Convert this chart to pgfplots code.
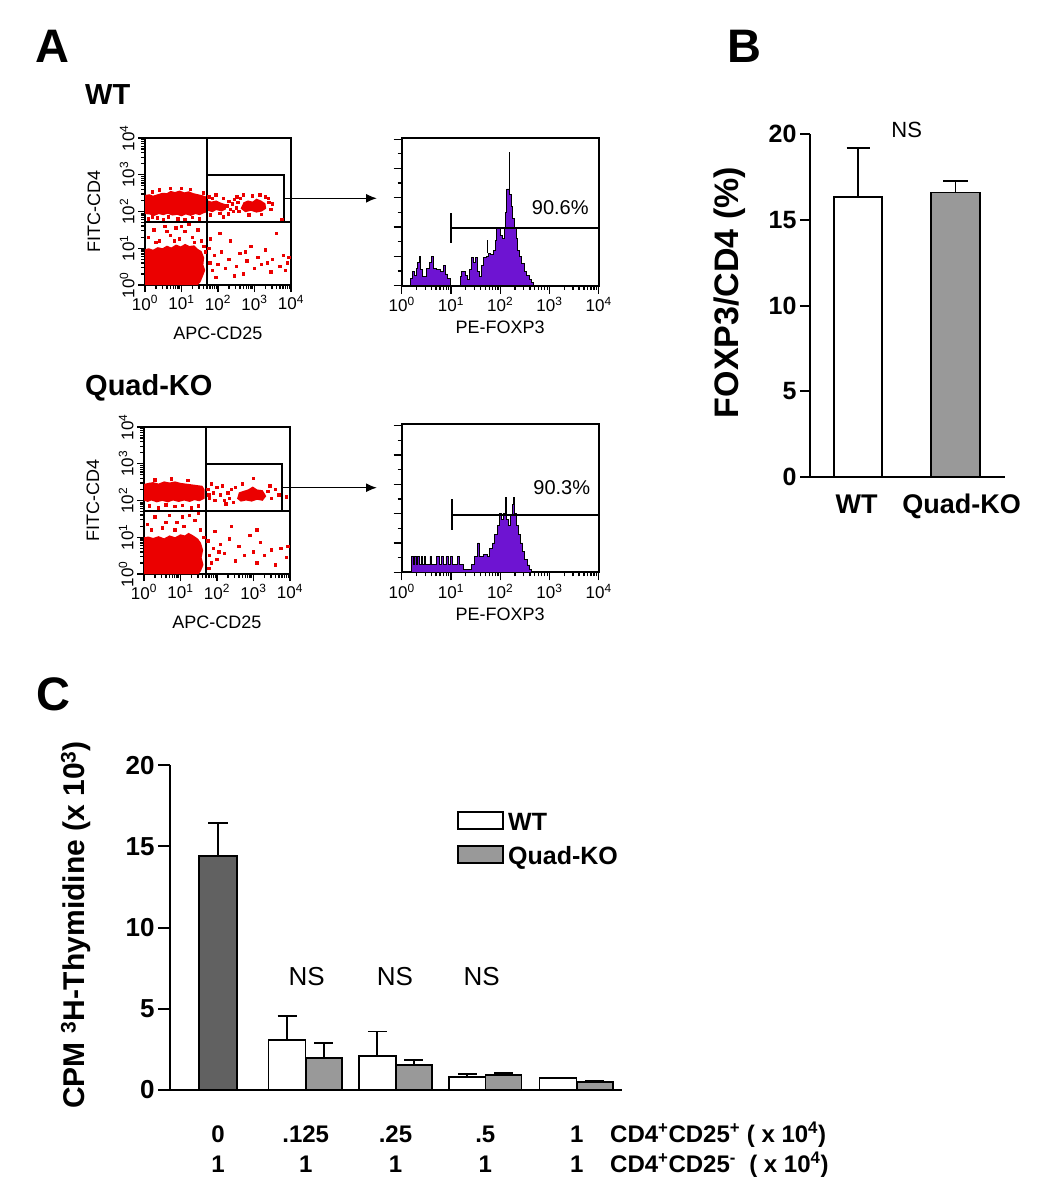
\documentclass[border=0pt]{standalone}
\usepackage{pgfplots}
\pgfplotsset{compat=1.18}
\usepackage{fontspec}
\setmainfont{Liberation Sans}
\usetikzlibrary{arrows.meta}
\newcommand{\fs}[1]{\fontsize{#1}{#1}\selectfont}
\definecolor{dotred}{RGB}{235,0,0}
\definecolor{fpurple}{RGB}{110,20,210}
\pgfplotsset{
 facs/.style={
  anchor=south west, scale only axis,
  xmin=0, xmax=4, xtick={0,1,2,3,4},
  xticklabels={10\textsuperscript{0},10\textsuperscript{1},10\textsuperscript{2},10\textsuperscript{3},10\textsuperscript{4}},
  minor xtick={0.301,0.477,0.602,0.699,0.778,0.845,0.903,0.954,1.301,1.477,1.602,1.699,1.778,1.845,1.903,1.954,2.301,2.477,2.602,2.699,2.778,2.845,2.903,2.954,3.301,3.477,3.602,3.699,3.778,3.845,3.903,3.954},
  tick align=outside, tick pos=left,
  tick label style={font=\fs{17}},
  tick style={black, line width=1.3pt},
  axis line style={line width=1.9pt},
 },
 dotplot/.style={facs, width=146pt, height=147pt,
  ymin=0, ymax=4, ytick={0,1,2,3,4},
  yticklabels={10\textsuperscript{0},10\textsuperscript{1},10\textsuperscript{2},10\textsuperscript{3},10\textsuperscript{4}},
  minor ytick={0.301,0.477,0.602,0.699,0.778,0.845,0.903,0.954,1.301,1.477,1.602,1.699,1.778,1.845,1.903,1.954,2.301,2.477,2.602,2.699,2.778,2.845,2.903,2.954,3.301,3.477,3.602,3.699,3.778,3.845,3.903,3.954},
  yticklabel style={rotate=90, anchor=south},
  major tick length=7pt, minor tick length=4pt,
  every axis x label/.style={at={(axis description cs:0.5,0)}, anchor=center, yshift=-48pt, font=\fs{18}},
  every axis y label/.style={at={(axis description cs:0,0.5)}, anchor=center, xshift=-51pt, rotate=90, font=\fs{18}},
 },
 hist/.style={facs, width=197pt, height=148pt,
  ymin=0, ymax=5.05, ytick={0,1,2,3,4,5}, yticklabels={{},{},{},{},{},{}}, minor y tick num=1,
  major tick length=8pt, minor tick length=4pt,
  every axis x label/.style={at={(axis description cs:0.5,0)}, anchor=center, yshift=-42pt, font=\fs{18}},
 },
 dots/.style={only marks, color=dotred, mark=square*, mark size=1.2pt, mark options={draw=dotred, fill=dotred, line width=0pt}},
 gate/.style={black, line width=2pt},
 ebar/.style={error bars/.cd, y dir=plus, y explicit,
  error bar style={line width=1.8pt, black},
  error mark options={rotate=90, line width=1.8pt, mark size=#1, black}},
}
\begin{document}
\begin{tikzpicture}
\useasboundingbox (0,0) rectangle (1050pt,-1199pt);

% ---------- panel letters and titles ----------
\node[anchor=base west, inner sep=0pt, font=\fs{47}\bfseries] at (35pt,-63pt) {A};
\node[anchor=base west, inner sep=0pt, font=\fs{47}\bfseries] at (727pt,-63pt) {B};
\node[anchor=base west, inner sep=0pt, font=\fs{47}\bfseries] at (36pt,-710pt) {C};
\node[anchor=base west, inner sep=0pt, font=\fs{29}\bfseries] at (85pt,-104pt) {WT};
\node[anchor=base west, inner sep=0pt, font=\fs{29}\bfseries] at (85pt,-395pt) {Quad-KO};

% ---------- A: WT dot plot ----------
\begin{axis}[dotplot, at={(145pt,-285pt)}, xlabel={APC-CD25}, ylabel={FITC-CD4}]
\addplot[fill=dotred, draw=none] coordinates {(0,1.93) (0,2.45) (0.12,2.47) (0.22,2.43) (0.35,2.47) (0.48,2.51) (0.6,2.5) (0.7,2.56) (0.82,2.53) (0.95,2.57) (1.08,2.52) (1.2,2.55) (1.32,2.5) (1.45,2.47) (1.58,2.44) (1.7,2.4) (1.7,1.98) (1.6,1.95) (1.5,1.9) (1.38,1.93) (1.25,1.88) (1.12,1.92) (1.0,1.87) (0.88,1.91) (0.75,1.89) (0.62,1.94) (0.5,1.9) (0.38,1.93) (0.25,1.88) (0.12,1.92)} -- cycle;
\addplot[fill=dotred, draw=none] coordinates {(1.72,2.02) (1.72,2.3) (1.82,2.27) (1.95,2.3) (2.08,2.24) (2.2,2.2) (2.22,2.06) (2.1,2.0) (1.95,2.04) (1.85,1.98)} -- cycle;
\addplot[fill=dotred, draw=none] coordinates {(2.62,2.08) (2.7,2.25) (2.82,2.3) (2.95,2.27) (3.05,2.35) (3.18,2.3) (3.3,2.22) (3.32,2.08) (3.2,2.0) (3.05,1.97) (2.9,2.02) (2.75,1.98)} -- cycle;
\addplot[fill=dotred, draw=none] coordinates {(0,0) (0,0.97) (0.1,1.0) (0.22,0.96) (0.35,1.03) (0.48,1.0) (0.6,1.07) (0.72,1.02) (0.85,1.1) (0.98,1.05) (1.1,1.12) (1.22,1.06) (1.35,1.08) (1.45,0.98) (1.55,0.92) (1.62,0.75) (1.6,0.55) (1.65,0.4) (1.58,0.22) (1.52,0.08) (1.45,0)} -- cycle;
\addplot[dots] coordinates {
(0.1,1.3) (0.25,1.5) (0.4,1.2) (0.55,1.6) (0.7,1.35) (0.85,1.55) (0.95,1.25) (1.1,1.45) (1.2,1.65) (1.3,1.3) (1.45,1.5) (1.55,1.2) (0.3,1.15) (0.8,1.2) (1.0,1.6) (0.6,1.45) (1.35,1.15) (1.62,1.05) (1.66,0.9)
(1.75,1.0) (1.78,0.6) (1.85,0.4) (1.9,0.8) (2.0,0.55) (2.1,0.9) (2.2,0.45) (2.3,0.7) (2.35,1.2) (2.5,0.5) (2.6,0.85) (2.7,0.3) (2.8,0.65) (2.9,1.05) (3.0,0.45) (3.1,0.75) (3.2,0.55) (3.3,0.95) (3.45,0.35) (3.5,0.7) (3.6,1.4) (3.7,0.5) (3.8,0.8) (3.9,0.6) (3.95,0.75) (2.45,0.25) (1.8,1.25) (2.05,1.4) (3.35,0.6) (2.75,0.9) (1.95,0.2) (3.85,0.4)
(1.75,2.4) (1.8,1.9) (1.85,2.35) (1.95,2.45) (2.05,1.95) (2.15,2.35) (2.25,2.15) (2.3,2.28) (2.35,2.05) (2.4,2.2) (2.45,2.32) (2.5,2.1) (2.55,2.25) (2.58,2.0) (2.62,2.35) (2.28,1.93) (2.42,2.0) (2.52,2.4) (2.7,2.45) (2.85,1.9) (2.95,2.42) (3.15,2.45) (3.3,2.4) (3.4,2.25) (3.5,2.2) (3.45,2.05) (3.75,1.78) (2.15,1.85) (3.2,1.92) (3.38,2.35)
(0.1,1.8) (0.2,1.85) (0.35,1.82) (0.5,1.78) (0.65,1.85) (0.9,1.8) (1.1,1.78) (1.3,1.83) (1.5,1.8) (0.4,2.58) (0.7,2.62) (1.0,2.62) (1.25,2.6) (0.2,2.53) (1.6,2.5)
};
\addplot[gate] coordinates {(1.7,0) (1.7,4)};
\addplot[gate] coordinates {(0,1.72) (4,1.72)};
\addplot[gate] coordinates {(1.7,1.72) (1.7,3.0) (3.8,3.0) (3.8,1.72)};
\end{axis}
\draw[line width=1.5pt, -{Latex[length=11pt,width=9pt]}] (283.5pt,-198.3pt) -- (377pt,-198.3pt);

% ---------- A: WT histogram ----------
\begin{axis}[hist, at={(401.7pt,-285.7pt)}, xlabel={PE-FOXP3}]
\addplot[const plot, fill=fpurple, draw=black, line width=0.9pt] coordinates {
(0.156,0) (0.183,0.25) (0.217,0.5) (0.258,0.35) (0.292,0.6) (0.325,0.8) (0.359,1.0) (0.372,0.7) (0.386,0.55) (0.427,0.3) (0.475,0.3) (0.508,0.6) (0.556,0.8) (0.597,1.0) (0.644,0.6) (0.712,0.55) (0.780,0.5) (0.847,0.7) (0.888,0.4) (0.929,0.25) (0.983,0) (1.186,0.3) (1.220,0.5) (1.295,0.35) (1.336,0.2) (1.376,0.55) (1.410,0.95) (1.458,0.8) (1.492,0.95) (1.539,0.5) (1.573,0.3) (1.614,0.7) (1.661,0.95) (1.715,1.0) (1.763,1.1) (1.810,1.05) (1.864,1.2) (1.898,1.55) (1.932,1.95) (1.980,2.0) (2.014,1.7) (2.054,1.6) (2.081,1.95) (2.115,2.5) (2.136,3.3) (2.169,3.3) (2.197,3.1) (2.224,2.7) (2.258,2.3) (2.292,2.0) (2.325,1.6) (2.359,1.2) (2.393,1.0) (2.441,0.75) (2.488,0.5) (2.542,0.35) (2.590,0.2) (2.644,0.1) (2.678,0)
} \closedcycle;
\addplot[black, line width=1.3pt] coordinates {(2.183,3.3) (2.183,4.57)};
\addplot[black, line width=1.3pt] coordinates {(1.742,1.1) (1.742,1.55)};
\addplot[gate] coordinates {(1.0,1.97) (4.0,1.97)};
\addplot[gate] coordinates {(1.0,1.46) (1.0,2.49)};
\addplot[gate] coordinates {(4.0,1.46) (4.0,2.49)};
\node[font=\fs{20}] at (axis cs:3.22,2.65) {90.6\%};
\end{axis}

% ---------- A: Quad-KO dot plot ----------
\begin{axis}[dotplot, at={(144pt,-574pt)}, xlabel={APC-CD25}, ylabel={FITC-CD4}]
\addplot[fill=dotred, draw=none] coordinates {(0,2.0) (0,2.45) (0.12,2.48) (0.25,2.5) (0.4,2.46) (0.55,2.52) (0.7,2.49) (0.85,2.52) (1.0,2.48) (1.15,2.46) (1.3,2.44) (1.45,2.42) (1.6,2.4) (1.66,2.3) (1.66,2.05) (1.52,1.98) (1.38,2.01) (1.25,1.96) (1.1,2.0) (0.95,1.96) (0.8,2.0) (0.65,1.95) (0.5,1.99) (0.35,1.95) (0.2,2.0) (0.1,1.96)} -- cycle;
\addplot[fill=dotred, draw=none] coordinates {(2.55,2.05) (2.6,2.22) (2.72,2.26) (2.85,2.3) (2.98,2.38) (3.1,2.3) (3.25,2.28) (3.35,2.12) (3.25,1.99) (3.1,2.02) (2.95,1.97) (2.8,2.0) (2.65,1.97)} -- cycle;
\addplot[fill=dotred, draw=none] coordinates {(0,0) (0,1.0) (0.12,1.02) (0.25,0.98) (0.4,1.03) (0.55,0.97) (0.7,1.05) (0.85,1.0) (1.0,1.08) (1.12,1.05) (1.22,1.12) (1.35,1.05) (1.48,0.96) (1.56,0.85) (1.62,0.65) (1.58,0.45) (1.63,0.25) (1.56,0.08) (1.5,0)} -- cycle;
\addplot[dots] coordinates {
(0.1,1.35) (0.3,1.55) (0.5,1.25) (0.7,1.6) (0.9,1.4) (1.1,1.3) (1.25,1.6) (1.4,1.45) (1.55,1.2) (0.2,1.2) (0.85,1.2) (1.05,1.55) (0.6,1.4) (1.5,1.65) (1.64,1.0)
(1.75,0.9) (1.8,0.5) (1.85,0.3) (1.9,0.7) (2.0,0.4) (2.1,0.8) (2.2,0.55) (2.35,0.95) (2.5,0.35) (2.6,0.75) (2.75,0.5) (2.9,1.05) (3.0,0.6) (3.1,0.3) (3.2,0.85) (3.3,0.5) (3.5,0.65) (3.6,0.25) (3.75,0.7) (3.9,0.45) (3.95,0.75) (2.4,1.3) (1.95,1.15) (3.1,1.2) (1.78,0.15) (2.05,0.6)
(1.75,2.3) (1.8,2.05) (1.9,2.2) (1.95,2.0) (2.0,2.35) (2.1,2.15) (2.15,2.4) (2.2,2.0) (2.3,2.2) (2.35,2.05) (2.4,2.3) (2.45,1.95) (2.5,2.35) (3.0,2.6) (3.4,2.25) (3.5,2.05) (3.6,2.3) (3.9,2.1) (1.85,2.45) (2.25,1.9) (3.45,2.4) (2.7,2.45) (3.7,2.15) (1.78,2.15)
(0.15,1.85) (0.4,1.8) (0.6,1.88) (0.85,1.83) (1.05,1.86) (1.3,1.8) (1.5,1.85) (0.3,2.56) (0.75,2.58) (1.2,2.55)
};
\addplot[gate] coordinates {(1.71,0) (1.71,4)};
\addplot[gate] coordinates {(0,1.72) (4,1.72)};
\addplot[gate] coordinates {(1.71,1.72) (1.71,3.0) (3.78,3.0) (3.78,1.72)};
\end{axis}
\draw[line width=1.5pt, -{Latex[length=11pt,width=9pt]}] (282.5pt,-487.7pt) -- (377pt,-487.7pt);

% ---------- A: Quad-KO histogram ----------
\begin{axis}[hist, at={(401.7pt,-572.3pt)}, xlabel={PE-FOXP3}]
\addplot[const plot, fill=fpurple, draw=black, line width=0.9pt] coordinates {
(0.182,0) (0.203,0.54) (0.236,0.27) (0.264,0.54) (0.291,0.27) (0.318,0.54) (0.358,0.27) (0.399,0.54) (0.426,0.27) (0.453,0.54) (0.486,0.27) (0.574,0.54) (0.608,0.27) (0.709,0.54) (0.764,0.27) (0.811,0.54) (0.845,0.27) (0.899,0.54) (0.946,0.27) (0.993,0.54) (1.034,0.27) (1.128,0.54) (1.182,0.27) (1.250,0.1) (1.419,0.27) (1.486,0.54) (1.541,1.0) (1.574,0.55) (1.655,0.6) (1.736,0.55) (1.791,0.8) (1.845,1.0) (1.892,1.3) (1.939,1.6) (1.980,2.0) (2.020,1.8) (2.061,2.0) (2.108,2.55) (2.128,1.8) (2.169,1.6) (2.209,1.95) (2.243,2.3) (2.264,2.55) (2.291,2.0) (2.331,1.6) (2.372,1.3) (2.412,1.0) (2.453,0.7) (2.500,0.45) (2.547,0.25) (2.601,0.1) (2.635,0)
} \closedcycle;
\addplot[gate] coordinates {(1.03,1.96) (4.0,1.96)};
\addplot[gate] coordinates {(1.03,1.45) (1.03,2.51)};
\addplot[gate] coordinates {(4.0,1.45) (4.0,2.51)};
\node[font=\fs{20}] at (axis cs:3.25,2.89) {90.3\%};
\end{axis}

% ---------- B ----------
\begin{axis}[at={(810pt,-476.7pt)}, anchor=south west, scale only axis,
  width=195pt, height=342.4pt, xmin=0, xmax=195, ymin=0, ymax=20,
  axis x line*=bottom, axis y line*=left,
  axis line style={line width=2pt},
  xtick=\empty, ytick={0,5,10,15,20}, yticklabels={0,5,10,15,20},
  tick align=outside, major tick length=10pt, tick style={black, line width=2pt},
  yticklabel style={font=\fs{25}\bfseries},
  ylabel={FOXP3/CD4 (\%)},
  every axis y label/.style={at={(axis description cs:0,0.5)}, anchor=center, xshift=-80pt, yshift=13pt, rotate=90, font=\fs{34}\bfseries},
  clip=false]
\addplot[ybar, bar width=48, bar shift=0pt, fill=white, draw=black, line width=1.9pt, ebar=11.5pt]
  coordinates {(48,16.34) +- (0,2.86)};
\addplot[ybar, bar width=49, bar shift=0pt, fill=black!40, draw=black, line width=1.9pt, ebar=12.5pt]
  coordinates {(145.5,16.6) +- (0,0.67)};
\node[font=\fs{22}] at (axis cs:96.7,20.25) {NS};
\node[anchor=base, font=\fs{27}\bfseries] at (axis cs:46.7,-2.14) {WT};
\node[anchor=base, font=\fs{27}\bfseries] at (axis cs:151.7,-2.14) {Quad-KO};
\end{axis}

% ---------- C ----------
\begin{axis}[at={(170pt,-1090pt)}, anchor=south west, scale only axis,
  width=451.7pt, height=324.7pt, xmin=170, xmax=621.7, ymin=0, ymax=20,
  axis x line*=bottom, axis y line*=left,
  axis line style={line width=2pt},
  xtick=\empty, ytick={0,5,10,15,20}, yticklabels={0,5,10,15,20},
  tick align=outside, major tick length=12pt, tick style={black, line width=2pt},
  yticklabel style={font=\fs{26}\bfseries},
  ylabel={CPM \textsuperscript{3}H-Thymidine (x 10\textsuperscript{3})},
  every axis y label/.style={at={(axis description cs:0,0.5)}, anchor=center, xshift=-94pt, yshift=2.7pt, rotate=90, font=\fs{30}\bfseries},
  clip=false]
\addplot[ybar, bar width=37.4, bar shift=0pt, fill=black!62, draw=black, line width=1.9pt, ebar=10pt]
  coordinates {(218,14.44) +- (0,1.99)};
\addplot[ybar, bar width=37, bar shift=0pt, fill=white, draw=black, line width=1.9pt, ebar=9.5pt]
  coordinates {(287,3.08) +- (0,1.50) (377.3,2.09) +- (0,1.51) (467.3,0.78) +- (0,0.22) (558,0.72) +- (0,0.0)};
\addplot[ybar, bar width=36, bar shift=0pt, fill=black!40, draw=black, line width=1.9pt, ebar=9.5pt]
  coordinates {(323.7,1.95) +- (0,0.97) (413.7,1.56) +- (0,0.29) (503.5,0.92) +- (0,0.13) (594.7,0.51) +- (0,0.03)};
\node[font=\fs{26}] at (axis cs:306.7,6.98) {NS};
\node[font=\fs{26}] at (axis cs:395,6.98) {NS};
\node[font=\fs{26}] at (axis cs:481.7,6.98) {NS};
\node[anchor=base, font=\fs{24}\bfseries] at (axis cs:218,-3.26) {0};
\node[anchor=base, font=\fs{24}\bfseries] at (axis cs:305.7,-3.26) {.125};
\node[anchor=base, font=\fs{24}\bfseries] at (axis cs:395.5,-3.26) {.25};
\node[anchor=base, font=\fs{24}\bfseries] at (axis cs:485.3,-3.26) {.5};
\node[anchor=base, font=\fs{24}\bfseries] at (axis cs:576.7,-3.26) {1};
\node[anchor=base, font=\fs{24}\bfseries] at (axis cs:218,-5.11) {1};
\node[anchor=base, font=\fs{24}\bfseries] at (axis cs:305.7,-5.11) {1};
\node[anchor=base, font=\fs{24}\bfseries] at (axis cs:395.5,-5.11) {1};
\node[anchor=base, font=\fs{24}\bfseries] at (axis cs:485.3,-5.11) {1};
\node[anchor=base, font=\fs{24}\bfseries] at (axis cs:576.7,-5.11) {1};
\node[anchor=base west, inner sep=0pt, font=\fs{24}\bfseries] at (axis cs:610,-3.26) {CD4\textsuperscript{+}CD25\textsuperscript{+} ( x 10\textsuperscript{4})};
\node[anchor=base west, inner sep=0pt, font=\fs{24}\bfseries] at (axis cs:610,-5.11) {CD4\textsuperscript{+}CD25\textsuperscript{-}\ \ ( x 10\textsuperscript{4})};
\end{axis}

% legend of C
\draw[line width=1.8pt, fill=white] (458.3pt,-811.7pt) rectangle (502.7pt,-829pt);
\draw[line width=1.8pt, fill=black!40] (458.3pt,-845.7pt) rectangle (502.7pt,-862.7pt);
\node[anchor=base west, inner sep=0pt, font=\fs{25}\bfseries] at (508pt,-830pt) {WT};
\node[anchor=base west, inner sep=0pt, font=\fs{25}\bfseries] at (508pt,-864pt) {Quad-KO};
\end{tikzpicture}
\end{document}
